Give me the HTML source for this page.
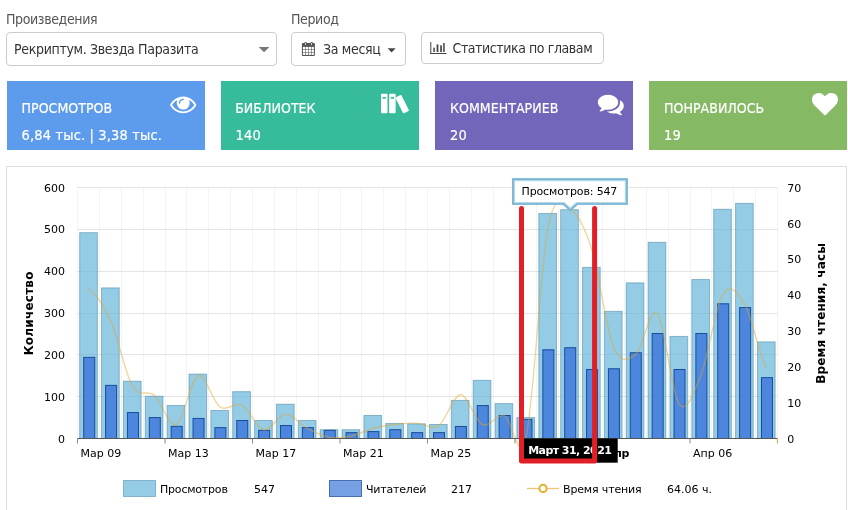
<!DOCTYPE html>
<html lang="ru"><head><meta charset="utf-8"><title>Статистика</title>
<style>
html,body{margin:0;padding:0;background:#fff;}
body{width:848px;height:510px;overflow:hidden;position:relative;font-family:"DejaVu Sans Condensed","Liberation Sans",sans-serif;font-size:14px;color:#555;}
.abs{position:absolute;white-space:nowrap;}
.lbl{top:10px;font-size:14px;line-height:18px;color:#555;letter-spacing:-0.38px;}
.ctl{box-sizing:border-box;border:1px solid #ccc;border-radius:4px;background:#fff;color:#333;}
.card{top:81px;height:69px;width:198px;color:#fff;-webkit-text-stroke:0.18px #fff;}
.card .t{position:absolute;left:15px;top:18px;font-size:14px;line-height:18px;letter-spacing:0.03px;}
.card .v{position:absolute;left:15px;top:45.300px;font-size:14.500px;line-height:18px;letter-spacing:0.15px;}
.panel{left:6px;top:166px;width:841px;height:360px;border:1px solid #ddd;box-sizing:border-box;}
svg{position:absolute;left:0;top:0;}
.ct{font-family:"DejaVu Sans","Liberation Sans",sans-serif;font-size:11px;fill:#000;}
</style></head><body>
<div class="abs lbl" style="left:6px">Произведения</div>
<div class="abs lbl" style="left:291px">Период</div>
<div class="abs ctl" style="left:6px;top:32px;width:271px;height:34px;"><span class="abs" style="left:7px;top:7px;line-height:18px;letter-spacing:-0.33px">Рекриптум. Звезда Паразита</span>
<svg width="271" height="34" style="left:-1px;top:0px"><path d="M252.700,13.900 h10.700 l-5.350,5.400 z" fill="#777"/></svg></div>
<div class="abs ctl" style="left:291px;top:32px;width:115px;height:34px;"><span class="abs" style="left:31px;top:7px;line-height:18px;letter-spacing:-0.32px">За месяц</span>
<svg width="115" height="34" style="left:-1px;top:0px"><g transform="translate(10.40,8.90) scale(0.007812)"><rect x="64" y="128" width="1664" height="1664" rx="128" fill="#555"/><rect x="384" y="0" width="320" height="512" rx="150" fill="#555"/><rect x="496" y="96" width="96" height="320" rx="40" fill="#fff"/><rect x="1152" y="0" width="320" height="512" rx="150" fill="#555"/><rect x="1264" y="96" width="96" height="320" rx="40" fill="#fff"/><rect x="192" y="640" width="288" height="288" fill="#fff"/><rect x="192" y="992" width="288" height="320" fill="#fff"/><rect x="192" y="1376" width="288" height="288" fill="#fff"/><rect x="544" y="640" width="320" height="288" fill="#fff"/><rect x="544" y="992" width="320" height="320" fill="#fff"/><rect x="544" y="1376" width="320" height="288" fill="#fff"/><rect x="928" y="640" width="320" height="288" fill="#fff"/><rect x="928" y="992" width="320" height="320" fill="#fff"/><rect x="928" y="1376" width="320" height="288" fill="#fff"/><rect x="1312" y="640" width="288" height="288" fill="#fff"/><rect x="1312" y="992" width="288" height="320" fill="#fff"/><rect x="1312" y="1376" width="288" height="288" fill="#fff"/></g><path d="M96.600,15.200 h8 l-4,4.200 z" fill="#444"/></svg></div>
<div class="abs ctl" style="left:421px;top:32px;width:183px;height:32px;"><span class="abs" style="left:30.5px;top:6px;line-height:18px;letter-spacing:-0.42px">Статистика по главам</span>
<svg width="183" height="32" style="left:-1px;top:-1px"><g fill="#444"><rect x="9.300" y="10" width="1" height="12"/><rect x="9.300" y="21" width="16.200" height="1"/><rect x="12.300" y="15.700" width="1.500" height="4.300"/><rect x="15.600" y="12.400" width="1.800" height="7.600"/><rect x="19.200" y="13.300" width="1.700" height="6.700"/><rect x="22.200" y="11" width="1.500" height="9"/></g></svg></div>

<div class="abs card" style="left:6.500px;background:#5d9cec"><span class="t">ПРОСМОТРОВ</span><span class="v">6,84 тыс. | 3,38 тыс.</span></div>
<div class="abs card" style="left:221px;background:#37bc9b"><span class="t" style="left:14.200px">БИБЛИОТЕК</span><span class="v" style="left:14.500px">140</span></div>
<div class="abs card" style="left:435px;background:#7266ba"><span class="t">КОММЕНТАРИЕВ</span><span class="v">20</span></div>
<div class="abs card" style="left:649px;background:#86b964"><span class="t">ПОНРАВИЛОСЬ</span><span class="v">19</span></div>
<div class="abs panel"></div>
<svg width="848" height="510" viewBox="0 0 848 510">
<line x1="77.50" y1="187.5" x2="77.50" y2="438.5" stroke="#000" stroke-opacity="0.045" stroke-width="1"/>
<line x1="99.50" y1="187.5" x2="99.50" y2="438.5" stroke="#000" stroke-opacity="0.045" stroke-width="1"/>
<line x1="121.50" y1="187.5" x2="121.50" y2="438.5" stroke="#000" stroke-opacity="0.045" stroke-width="1"/>
<line x1="143.50" y1="187.5" x2="143.50" y2="438.5" stroke="#000" stroke-opacity="0.045" stroke-width="1"/>
<line x1="165.50" y1="187.5" x2="165.50" y2="438.5" stroke="#000" stroke-opacity="0.045" stroke-width="1"/>
<line x1="186.50" y1="187.5" x2="186.50" y2="438.5" stroke="#000" stroke-opacity="0.045" stroke-width="1"/>
<line x1="208.50" y1="187.5" x2="208.50" y2="438.5" stroke="#000" stroke-opacity="0.045" stroke-width="1"/>
<line x1="230.50" y1="187.5" x2="230.50" y2="438.5" stroke="#000" stroke-opacity="0.045" stroke-width="1"/>
<line x1="252.50" y1="187.5" x2="252.50" y2="438.5" stroke="#000" stroke-opacity="0.045" stroke-width="1"/>
<line x1="274.50" y1="187.5" x2="274.50" y2="438.5" stroke="#000" stroke-opacity="0.045" stroke-width="1"/>
<line x1="296.50" y1="187.5" x2="296.50" y2="438.5" stroke="#000" stroke-opacity="0.045" stroke-width="1"/>
<line x1="318.50" y1="187.5" x2="318.50" y2="438.5" stroke="#000" stroke-opacity="0.045" stroke-width="1"/>
<line x1="340.50" y1="187.5" x2="340.50" y2="438.5" stroke="#000" stroke-opacity="0.045" stroke-width="1"/>
<line x1="361.50" y1="187.5" x2="361.50" y2="438.5" stroke="#000" stroke-opacity="0.045" stroke-width="1"/>
<line x1="383.50" y1="187.5" x2="383.50" y2="438.5" stroke="#000" stroke-opacity="0.045" stroke-width="1"/>
<line x1="405.50" y1="187.5" x2="405.50" y2="438.5" stroke="#000" stroke-opacity="0.045" stroke-width="1"/>
<line x1="427.50" y1="187.5" x2="427.50" y2="438.5" stroke="#000" stroke-opacity="0.045" stroke-width="1"/>
<line x1="449.50" y1="187.5" x2="449.50" y2="438.5" stroke="#000" stroke-opacity="0.045" stroke-width="1"/>
<line x1="471.50" y1="187.5" x2="471.50" y2="438.5" stroke="#000" stroke-opacity="0.045" stroke-width="1"/>
<line x1="493.50" y1="187.5" x2="493.50" y2="438.5" stroke="#000" stroke-opacity="0.045" stroke-width="1"/>
<line x1="515.50" y1="187.5" x2="515.50" y2="438.5" stroke="#000" stroke-opacity="0.045" stroke-width="1"/>
<line x1="536.50" y1="187.5" x2="536.50" y2="438.5" stroke="#000" stroke-opacity="0.045" stroke-width="1"/>
<line x1="558.50" y1="187.5" x2="558.50" y2="438.5" stroke="#000" stroke-opacity="0.045" stroke-width="1"/>
<line x1="580.50" y1="187.5" x2="580.50" y2="438.5" stroke="#000" stroke-opacity="0.045" stroke-width="1"/>
<line x1="602.50" y1="187.5" x2="602.50" y2="438.5" stroke="#000" stroke-opacity="0.045" stroke-width="1"/>
<line x1="624.50" y1="187.5" x2="624.50" y2="438.5" stroke="#000" stroke-opacity="0.045" stroke-width="1"/>
<line x1="646.50" y1="187.5" x2="646.50" y2="438.5" stroke="#000" stroke-opacity="0.045" stroke-width="1"/>
<line x1="668.50" y1="187.5" x2="668.50" y2="438.5" stroke="#000" stroke-opacity="0.045" stroke-width="1"/>
<line x1="690.50" y1="187.5" x2="690.50" y2="438.5" stroke="#000" stroke-opacity="0.045" stroke-width="1"/>
<line x1="711.50" y1="187.5" x2="711.50" y2="438.5" stroke="#000" stroke-opacity="0.045" stroke-width="1"/>
<line x1="733.50" y1="187.5" x2="733.50" y2="438.5" stroke="#000" stroke-opacity="0.045" stroke-width="1"/>
<line x1="755.50" y1="187.5" x2="755.50" y2="438.5" stroke="#000" stroke-opacity="0.045" stroke-width="1"/>
<line x1="777.50" y1="187.5" x2="777.50" y2="438.5" stroke="#000" stroke-opacity="0.045" stroke-width="1"/>
<line x1="77.5" y1="396.50" x2="777.5" y2="396.50" stroke="#000" stroke-opacity="0.1" stroke-width="1"/>
<line x1="77.5" y1="354.50" x2="777.5" y2="354.50" stroke="#000" stroke-opacity="0.1" stroke-width="1"/>
<line x1="77.5" y1="313.50" x2="777.5" y2="313.50" stroke="#000" stroke-opacity="0.1" stroke-width="1"/>
<line x1="77.5" y1="271.50" x2="777.5" y2="271.50" stroke="#000" stroke-opacity="0.1" stroke-width="1"/>
<line x1="77.5" y1="229.50" x2="777.5" y2="229.50" stroke="#000" stroke-opacity="0.1" stroke-width="1"/>
<line x1="77.5" y1="187.50" x2="777.5" y2="187.50" stroke="#000" stroke-opacity="0.1" stroke-width="1"/>
<rect x="79.68" y="232.68" width="17.7" height="205.82" fill="#67b7dc" fill-opacity="0.7" stroke="#3f7f9f" stroke-opacity="0.5" stroke-width="1"/>
<rect x="101.54" y="287.90" width="17.7" height="150.60" fill="#67b7dc" fill-opacity="0.7" stroke="#3f7f9f" stroke-opacity="0.5" stroke-width="1"/>
<rect x="123.41" y="381.19" width="17.7" height="57.31" fill="#67b7dc" fill-opacity="0.7" stroke="#3f7f9f" stroke-opacity="0.5" stroke-width="1"/>
<rect x="145.27" y="396.25" width="17.7" height="42.25" fill="#67b7dc" fill-opacity="0.7" stroke="#3f7f9f" stroke-opacity="0.5" stroke-width="1"/>
<rect x="167.13" y="405.45" width="17.7" height="33.05" fill="#67b7dc" fill-opacity="0.7" stroke="#3f7f9f" stroke-opacity="0.5" stroke-width="1"/>
<rect x="188.99" y="374.08" width="17.7" height="64.42" fill="#67b7dc" fill-opacity="0.7" stroke="#3f7f9f" stroke-opacity="0.5" stroke-width="1"/>
<rect x="210.86" y="410.47" width="17.7" height="28.03" fill="#67b7dc" fill-opacity="0.7" stroke="#3f7f9f" stroke-opacity="0.5" stroke-width="1"/>
<rect x="232.72" y="391.65" width="17.7" height="46.85" fill="#67b7dc" fill-opacity="0.7" stroke="#3f7f9f" stroke-opacity="0.5" stroke-width="1"/>
<rect x="254.58" y="420.51" width="17.7" height="17.99" fill="#67b7dc" fill-opacity="0.7" stroke="#3f7f9f" stroke-opacity="0.5" stroke-width="1"/>
<rect x="276.44" y="404.20" width="17.7" height="34.30" fill="#67b7dc" fill-opacity="0.7" stroke="#3f7f9f" stroke-opacity="0.5" stroke-width="1"/>
<rect x="298.31" y="420.51" width="17.7" height="17.99" fill="#67b7dc" fill-opacity="0.7" stroke="#3f7f9f" stroke-opacity="0.5" stroke-width="1"/>
<rect x="320.17" y="429.71" width="17.7" height="8.79" fill="#67b7dc" fill-opacity="0.7" stroke="#3f7f9f" stroke-opacity="0.5" stroke-width="1"/>
<rect x="342.03" y="429.71" width="17.7" height="8.79" fill="#67b7dc" fill-opacity="0.7" stroke="#3f7f9f" stroke-opacity="0.5" stroke-width="1"/>
<rect x="363.89" y="415.49" width="17.7" height="23.01" fill="#67b7dc" fill-opacity="0.7" stroke="#3f7f9f" stroke-opacity="0.5" stroke-width="1"/>
<rect x="385.76" y="423.44" width="17.7" height="15.06" fill="#67b7dc" fill-opacity="0.7" stroke="#3f7f9f" stroke-opacity="0.5" stroke-width="1"/>
<rect x="407.62" y="423.86" width="17.7" height="14.64" fill="#67b7dc" fill-opacity="0.7" stroke="#3f7f9f" stroke-opacity="0.5" stroke-width="1"/>
<rect x="429.48" y="424.49" width="17.7" height="14.01" fill="#67b7dc" fill-opacity="0.7" stroke="#3f7f9f" stroke-opacity="0.5" stroke-width="1"/>
<rect x="451.34" y="400.43" width="17.7" height="38.07" fill="#67b7dc" fill-opacity="0.7" stroke="#3f7f9f" stroke-opacity="0.5" stroke-width="1"/>
<rect x="473.21" y="380.35" width="17.7" height="58.15" fill="#67b7dc" fill-opacity="0.7" stroke="#3f7f9f" stroke-opacity="0.5" stroke-width="1"/>
<rect x="495.07" y="403.57" width="17.7" height="34.93" fill="#67b7dc" fill-opacity="0.7" stroke="#3f7f9f" stroke-opacity="0.5" stroke-width="1"/>
<rect x="516.93" y="417.58" width="17.7" height="20.92" fill="#67b7dc" fill-opacity="0.7" stroke="#3f7f9f" stroke-opacity="0.5" stroke-width="1"/>
<rect x="538.79" y="213.44" width="17.7" height="225.06" fill="#67b7dc" fill-opacity="0.7" stroke="#3f7f9f" stroke-opacity="0.5" stroke-width="1"/>
<rect x="560.66" y="209.67" width="17.7" height="228.83" fill="#67b7dc" fill-opacity="0.7" stroke="#3f7f9f" stroke-opacity="0.5" stroke-width="1"/>
<rect x="582.52" y="267.40" width="17.7" height="171.10" fill="#67b7dc" fill-opacity="0.7" stroke="#3f7f9f" stroke-opacity="0.5" stroke-width="1"/>
<rect x="604.38" y="311.33" width="17.7" height="127.17" fill="#67b7dc" fill-opacity="0.7" stroke="#3f7f9f" stroke-opacity="0.5" stroke-width="1"/>
<rect x="626.24" y="282.88" width="17.7" height="155.62" fill="#67b7dc" fill-opacity="0.7" stroke="#3f7f9f" stroke-opacity="0.5" stroke-width="1"/>
<rect x="648.11" y="242.30" width="17.7" height="196.20" fill="#67b7dc" fill-opacity="0.7" stroke="#3f7f9f" stroke-opacity="0.5" stroke-width="1"/>
<rect x="669.97" y="336.43" width="17.7" height="102.07" fill="#67b7dc" fill-opacity="0.7" stroke="#3f7f9f" stroke-opacity="0.5" stroke-width="1"/>
<rect x="691.83" y="279.53" width="17.7" height="158.97" fill="#67b7dc" fill-opacity="0.7" stroke="#3f7f9f" stroke-opacity="0.5" stroke-width="1"/>
<rect x="713.69" y="209.25" width="17.7" height="229.25" fill="#67b7dc" fill-opacity="0.7" stroke="#3f7f9f" stroke-opacity="0.5" stroke-width="1"/>
<rect x="735.56" y="203.40" width="17.7" height="235.10" fill="#67b7dc" fill-opacity="0.7" stroke="#3f7f9f" stroke-opacity="0.5" stroke-width="1"/>
<rect x="757.42" y="341.87" width="17.7" height="96.63" fill="#67b7dc" fill-opacity="0.7" stroke="#3f7f9f" stroke-opacity="0.5" stroke-width="1"/>
<rect x="83.73" y="357.34" width="11.0" height="81.16" fill="#4079da" fill-opacity="0.85" stroke="#1a4c9c" stroke-width="1"/>
<rect x="105.59" y="385.37" width="11.0" height="53.13" fill="#4079da" fill-opacity="0.85" stroke="#1a4c9c" stroke-width="1"/>
<rect x="127.46" y="412.56" width="11.0" height="25.94" fill="#4079da" fill-opacity="0.85" stroke="#1a4c9c" stroke-width="1"/>
<rect x="149.32" y="417.58" width="11.0" height="20.92" fill="#4079da" fill-opacity="0.85" stroke="#1a4c9c" stroke-width="1"/>
<rect x="171.18" y="426.37" width="11.0" height="12.13" fill="#4079da" fill-opacity="0.85" stroke="#1a4c9c" stroke-width="1"/>
<rect x="193.04" y="418.42" width="11.0" height="20.08" fill="#4079da" fill-opacity="0.85" stroke="#1a4c9c" stroke-width="1"/>
<rect x="214.91" y="427.62" width="11.0" height="10.88" fill="#4079da" fill-opacity="0.85" stroke="#1a4c9c" stroke-width="1"/>
<rect x="236.77" y="420.51" width="11.0" height="17.99" fill="#4079da" fill-opacity="0.85" stroke="#1a4c9c" stroke-width="1"/>
<rect x="258.63" y="430.34" width="11.0" height="8.16" fill="#4079da" fill-opacity="0.85" stroke="#1a4c9c" stroke-width="1"/>
<rect x="280.49" y="425.53" width="11.0" height="12.97" fill="#4079da" fill-opacity="0.85" stroke="#1a4c9c" stroke-width="1"/>
<rect x="302.36" y="427.62" width="11.0" height="10.88" fill="#4079da" fill-opacity="0.85" stroke="#1a4c9c" stroke-width="1"/>
<rect x="324.22" y="430.34" width="11.0" height="8.16" fill="#4079da" fill-opacity="0.85" stroke="#1a4c9c" stroke-width="1"/>
<rect x="346.08" y="432.64" width="11.0" height="5.86" fill="#4079da" fill-opacity="0.85" stroke="#1a4c9c" stroke-width="1"/>
<rect x="367.94" y="431.60" width="11.0" height="6.90" fill="#4079da" fill-opacity="0.85" stroke="#1a4c9c" stroke-width="1"/>
<rect x="389.81" y="429.71" width="11.0" height="8.79" fill="#4079da" fill-opacity="0.85" stroke="#1a4c9c" stroke-width="1"/>
<rect x="411.67" y="432.64" width="11.0" height="5.86" fill="#4079da" fill-opacity="0.85" stroke="#1a4c9c" stroke-width="1"/>
<rect x="433.53" y="432.64" width="11.0" height="5.86" fill="#4079da" fill-opacity="0.85" stroke="#1a4c9c" stroke-width="1"/>
<rect x="455.39" y="426.49" width="11.0" height="12.01" fill="#4079da" fill-opacity="0.85" stroke="#1a4c9c" stroke-width="1"/>
<rect x="477.26" y="405.58" width="11.0" height="32.92" fill="#4079da" fill-opacity="0.85" stroke="#1a4c9c" stroke-width="1"/>
<rect x="499.12" y="415.49" width="11.0" height="23.01" fill="#4079da" fill-opacity="0.85" stroke="#1a4c9c" stroke-width="1"/>
<rect x="520.98" y="419.38" width="11.0" height="19.12" fill="#4079da" fill-opacity="0.85" stroke="#1a4c9c" stroke-width="1"/>
<rect x="542.84" y="349.81" width="11.0" height="88.69" fill="#4079da" fill-opacity="0.85" stroke="#1a4c9c" stroke-width="1"/>
<rect x="564.71" y="347.72" width="11.0" height="90.78" fill="#4079da" fill-opacity="0.85" stroke="#1a4c9c" stroke-width="1"/>
<rect x="586.57" y="369.48" width="11.0" height="69.02" fill="#4079da" fill-opacity="0.85" stroke="#1a4c9c" stroke-width="1"/>
<rect x="608.43" y="368.76" width="11.0" height="69.74" fill="#4079da" fill-opacity="0.85" stroke="#1a4c9c" stroke-width="1"/>
<rect x="630.29" y="352.74" width="11.0" height="85.76" fill="#4079da" fill-opacity="0.85" stroke="#1a4c9c" stroke-width="1"/>
<rect x="652.16" y="333.50" width="11.0" height="105.00" fill="#4079da" fill-opacity="0.85" stroke="#1a4c9c" stroke-width="1"/>
<rect x="674.02" y="369.48" width="11.0" height="69.02" fill="#4079da" fill-opacity="0.85" stroke="#1a4c9c" stroke-width="1"/>
<rect x="695.88" y="333.50" width="11.0" height="105.00" fill="#4079da" fill-opacity="0.85" stroke="#1a4c9c" stroke-width="1"/>
<rect x="717.74" y="303.80" width="11.0" height="134.70" fill="#4079da" fill-opacity="0.85" stroke="#1a4c9c" stroke-width="1"/>
<rect x="739.61" y="307.56" width="11.0" height="130.94" fill="#4079da" fill-opacity="0.85" stroke="#1a4c9c" stroke-width="1"/>
<rect x="761.47" y="377.63" width="11.0" height="60.87" fill="#4079da" fill-opacity="0.85" stroke="#1a4c9c" stroke-width="1"/>
<path d="M88.83,288.98 C96.12,294.29 103.41,304.69 110.69,320.89 C117.98,337.08 125.27,373.72 132.56,386.15 C139.84,398.58 147.13,389.08 154.42,395.47 C161.71,401.87 168.99,427.80 176.28,424.52 C183.57,421.23 190.86,378.68 198.14,375.75 C205.43,372.82 212.72,402.05 220.01,406.95 C227.29,411.85 234.58,401.33 241.87,405.15 C249.16,408.98 256.44,428.40 263.73,429.89 C271.02,431.39 278.31,414.36 285.59,414.12 C292.88,413.88 300.17,424.58 307.46,428.46 C314.74,432.34 322.03,436.17 329.32,437.42 C336.61,438.68 343.89,437.48 351.18,435.99 C358.47,434.50 365.76,430.37 373.04,428.46 C380.33,426.55 387.62,425.41 394.91,424.52 C402.19,423.62 409.48,422.90 416.77,423.08 C424.06,423.26 431.34,430.31 438.63,425.59 C445.92,420.87 453.21,394.93 460.49,394.75 C467.78,394.58 475.07,421.05 482.36,424.52 C489.64,427.98 496.93,413.52 504.22,415.55 C511.51,417.58 518.79,468.02 526.08,436.71 C533.37,405.39 540.66,265.64 547.94,227.66 C555.23,189.68 562.52,205.21 569.81,208.80 C577.09,212.38 584.38,226.13 591.67,249.17 C598.96,272.22 606.24,329.49 613.53,347.06 C620.82,364.63 628.11,360.15 635.39,354.59 C642.68,349.04 649.97,305.47 657.26,313.72 C664.54,321.96 671.83,393.86 679.12,404.08 C686.41,414.30 693.69,393.32 700.98,375.03 C708.27,356.75 715.56,306.19 722.84,294.35 C730.13,282.52 737.42,291.90 744.71,304.04 C751.99,316.17 759.28,356.63 766.57,367.14" fill="none" stroke="#e3a52e" stroke-opacity="0.47" stroke-width="1.350"/>
<line x1="77.5" y1="438.5" x2="777.5" y2="438.5" stroke="#555" stroke-width="1"/>
<line x1="77.50" y1="438.5" x2="77.50" y2="443.5" stroke="#888" stroke-width="1"/>
<line x1="165.00" y1="438.5" x2="165.00" y2="443.5" stroke="#888" stroke-width="1"/>
<line x1="252.50" y1="438.5" x2="252.50" y2="443.5" stroke="#888" stroke-width="1"/>
<line x1="340.00" y1="438.5" x2="340.00" y2="443.5" stroke="#888" stroke-width="1"/>
<line x1="427.50" y1="438.5" x2="427.50" y2="443.5" stroke="#888" stroke-width="1"/>
<line x1="515.00" y1="438.5" x2="515.00" y2="443.5" stroke="#888" stroke-width="1"/>
<line x1="690.00" y1="438.5" x2="690.00" y2="443.5" stroke="#888" stroke-width="1"/>
<line x1="777.5" y1="438.5" x2="777.5" y2="443.5" stroke="#e1a531" stroke-width="1"/>
<text x="80.50" y="457" class="ct">Мар 09</text>
<text x="168.00" y="457" class="ct">Мар 13</text>
<text x="255.50" y="457" class="ct">Мар 17</text>
<text x="343.00" y="457" class="ct">Мар 21</text>
<text x="430.50" y="457" class="ct">Мар 25</text>
<text x="693.00" y="457" class="ct">Апр 06</text>
<text x="606.300" y="457" class="ct" font-weight="bold" style="letter-spacing:-0.5px">Апр</text>
<text x="65" y="442.50" class="ct" text-anchor="end">0</text>
<text x="65" y="400.67" class="ct" text-anchor="end">100</text>
<text x="65" y="358.83" class="ct" text-anchor="end">200</text>
<text x="65" y="317.00" class="ct" text-anchor="end">300</text>
<text x="65" y="275.17" class="ct" text-anchor="end">400</text>
<text x="65" y="233.33" class="ct" text-anchor="end">500</text>
<text x="65" y="191.50" class="ct" text-anchor="end">600</text>
<text x="787.200" y="442.70" class="ct">0</text>
<text x="787.200" y="406.84" class="ct">10</text>
<text x="787.200" y="370.99" class="ct">20</text>
<text x="787.200" y="335.13" class="ct">30</text>
<text x="787.200" y="299.27" class="ct">40</text>
<text x="787.200" y="263.41" class="ct">50</text>
<text x="787.200" y="227.56" class="ct">60</text>
<text x="787.200" y="191.70" class="ct">70</text>
<text transform="translate(33,313.300) rotate(-90)" class="ct" font-weight="bold" style="font-size:12px;letter-spacing:0.23px" text-anchor="middle">Количество</text>
<text transform="translate(824.500,313.300) rotate(-90)" class="ct" font-weight="bold" style="font-size:12px;letter-spacing:0.15px" text-anchor="middle">Время чтения, часы</text>
<rect x="123.5" y="480.5" width="32" height="16" fill="#67b7dc" fill-opacity="0.7" stroke="#3f7f9f" stroke-opacity="0.5"/>
<text x="160" y="493" class="ct" style="letter-spacing:-0.2px">Просмотров</text><text x="254" y="493" class="ct">547</text>
<rect x="329.5" y="480.5" width="32" height="16" fill="#3c78d8" fill-opacity="0.7" stroke="#2a56a0" stroke-opacity="0.8"/>
<text x="366" y="493" class="ct" style="letter-spacing:-0.2px">Читателей</text><text x="451" y="493" class="ct">217</text>
<line x1="527" y1="488.500" x2="559" y2="488.500" stroke="#e1a531" stroke-opacity="0.65" stroke-width="1.300"/><circle cx="543" cy="488.400" r="3.600" fill="#fff" stroke="#e2b12a" stroke-width="2"/>
<text x="563" y="493" class="ct" style="letter-spacing:-0.15px">Время чтения</text><text x="667" y="493" class="ct">64.06 ч.</text>
<rect x="523" y="438.500" width="94.700" height="24.200" fill="#000"/>
<text x="569.800" y="454.300" class="ct" text-anchor="middle" font-weight="bold" style="fill:#fff;letter-spacing:-0.55px">Март 31, 2021</text>
<path d="M521.500,208.500 V461 H594.600 V208.500" fill="none" stroke="#e21f27" stroke-width="5" stroke-linecap="round" stroke-linejoin="round"/>
<path d="M513.500,179.800 H626.300 V203.400 H576.800 L570.300,209.300 L563.800,203.400 H513.500 Z" fill="#fff" stroke="#b3d7e7" stroke-width="3" stroke-linejoin="miter"/>
<path d="M512.900,179.200 H626.900 V204 H577.200 L570.300,210.200 L563.400,204 H512.900 Z" fill="none" stroke="#78b4d2" stroke-width="1.700" stroke-linejoin="miter"/>
<text x="569.400" y="195.300" class="ct" text-anchor="middle" style="letter-spacing:-0.15px">Просмотров: 547</text>
<path transform="translate(170.2,91.03) scale(0.014509)" d="M1664 960q-152-236-381-353 61 104 61 225 0 185-131.500 316.500t-316.500 131.500-316.500-131.500-131.500-316.500q0-121 61-225-229 117-381 353 133 205 333.500 326.500t434.500 121.500 434.500-121.500 333.500-326.500zm-720-384q0-20-14-34t-34-14q-125 0-214.500 89.500t-89.500 214.500q0 20 14 34t34 14 34-14 14-34q0-86 61-147t147-61q20 0 34-14t14-34zm848 384q0 34-20 69-140 230-376.500 368.500t-499.500 138.500-499.500-139-376.500-368q-20-35-20-69t20-69q140-229 376.500-368t499.500-139 499.500 139 376.500 368q20 35 20 69z" fill="#fff"/>
<path transform="translate(597.8,91.09) scale(0.014509)" d="M1408 768q0 139-94 257t-256.500 186.500-353.500 68.500q-86 0-176-16-124 88-278 128-36 9-86 16h-3q-11 0-20.500-8t-11.500-21q-1-3-1-6.500t.5-6.500 2-6l2.500-5 3.500-5.500 4-5 4.500-5 4-4.500q5-6 23-25t26-29.500 22.500-29 25-38.500 20.500-44q-124-72-195-177t-71-224q0-139 94-257t256.500-186.500 353.500-68.500 353.500 68.500 256.500 186.500 94 257zm384 256q0 120-71 224.500t-195 176.500q10 24 20.500 44t25 38.500 22.500 29 26 29.500 23 25q1 1 4 4.500t4.500 5 4 5 3.500 5.500l2.500 5 2 6 .5 6.500-1 6.500q-3 14-13 22t-22 7q-50-7-86-16-154-40-278-128-90 16-176 16-271 0-472-132 58 4 88 4 161 0 309-45t264-129q125-92 192-212t67-254q0-77-23-152 129 71 204 178t75 230z" fill="#fff"/>
<path transform="translate(812,91.19) scale(0.014509)" d="M896 1664q-26 0-44-18l-624-602q-10-8-27.500-26t-55.500-65.500-68-97.500-53.500-121-23.500-138q0-220 127-344t351-124q62 0 126.500 21.500t120 58 95.500 68.500 76 68q36-36 76-68t95.500-68.500 120-58 126.500-21.500q224 0 351 124t127 344q0 221-229 450l-623 600q-18 18-44 18z" fill="#fff"/>
<path transform="translate(381,90.6) scale(0.8125)" d="M7 4h-6c-0.550 0-1 0.450-1 1v22c0 0.550 0.450 1 1 1h6c0.550 0 1-0.450 1-1v-22c0-0.550-0.450-1-1-1zM6 10h-4v-2h4v2z M17 4h-6c-0.550 0-1 0.450-1 1v22c0 0.550 0.450 1 1 1h6c0.550 0 1-0.450 1-1v-22c0-0.550-0.450-1-1-1zM16 10h-4v-2h4v2z M23.909 5.546l-5.358 2.700c-0.491 0.247-0.691 0.852-0.443 1.343l8.999 17.861c0.247 0.491 0.852 0.691 1.343 0.443l5.358-2.700c0.491-0.247 0.691-0.852 0.443-1.343l-8.999-17.861c-0.247-0.491-0.852-0.691-1.343-0.443z" fill="#fff" fill-rule="evenodd"/>
</svg>
</body></html>
